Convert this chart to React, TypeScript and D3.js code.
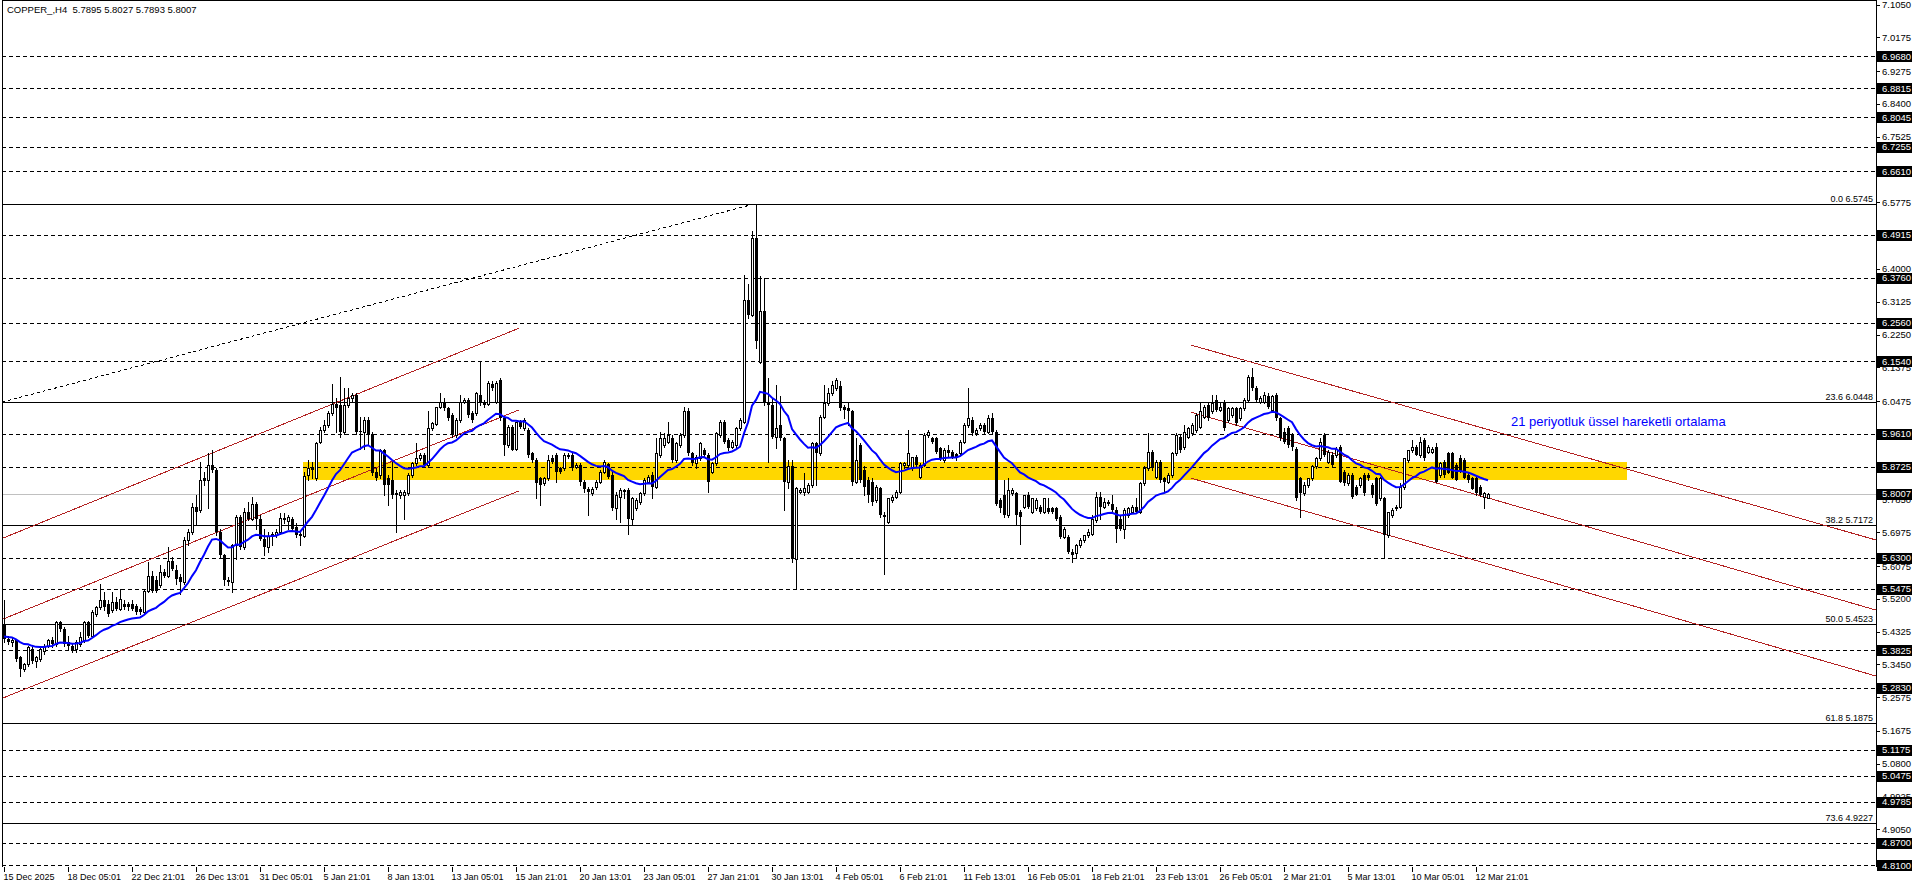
import React from 'react';
import * as d3 from 'd3';

// OHLC per H4 bar: [open, high, low, close]
const candles: [number, number, number, number][] = [
[5.453,5.516,5.404,5.413],[5.413,5.422,5.400,5.404],[5.404,5.418,5.395,5.409],[5.409,5.411,5.355,5.359],[5.364,5.368,5.315,5.333],
[5.333,5.350,5.328,5.346],[5.346,5.395,5.342,5.391],[5.386,5.391,5.350,5.355],[5.355,5.368,5.337,5.364],[5.359,5.391,5.355,5.386],
[5.382,5.400,5.373,5.395],[5.395,5.413,5.391,5.409],[5.409,5.418,5.391,5.400],[5.400,5.462,5.395,5.458],[5.458,5.462,5.435,5.440],
[5.440,5.444,5.395,5.400],[5.404,5.422,5.386,5.395],[5.395,5.400,5.377,5.382],[5.386,5.409,5.377,5.404],[5.400,5.431,5.395,5.418],
[5.409,5.462,5.404,5.458],[5.458,5.462,5.418,5.422],[5.422,5.489,5.418,5.484],[5.480,5.502,5.475,5.498],[5.498,5.560,5.493,5.516],
[5.516,5.538,5.489,5.498],[5.507,5.516,5.475,5.480],[5.489,5.538,5.484,5.511],[5.511,5.525,5.489,5.493],[5.493,5.547,5.489,5.520],
[5.507,5.516,5.493,5.498],[5.507,5.511,5.489,5.498],[5.507,5.516,5.489,5.493],[5.502,5.507,5.480,5.484],[5.493,5.498,5.480,5.484],
[5.484,5.547,5.480,5.542],[5.542,5.618,5.538,5.582],[5.582,5.595,5.538,5.542],[5.569,5.582,5.538,5.542],[5.556,5.609,5.551,5.591],
[5.591,5.600,5.578,5.582],[5.582,5.658,5.578,5.622],[5.622,5.631,5.596,5.600],[5.598,5.609,5.560,5.573],[5.578,5.587,5.533,5.565],
[5.565,5.685,5.560,5.676],[5.676,5.707,5.663,5.698],[5.698,5.775,5.694,5.765],[5.765,5.797,5.716,5.752],[5.757,5.886,5.752,5.837],
[5.841,5.859,5.823,5.834],[5.837,5.910,5.761,5.877],[5.877,5.917,5.859,5.863],[5.863,5.868,5.689,5.698],[5.698,5.707,5.632,5.636],
[5.636,5.640,5.556,5.569],[5.571,5.578,5.556,5.565],[5.565,5.667,5.538,5.663],[5.663,5.743,5.627,5.739],[5.739,5.743,5.654,5.658],
[5.658,5.761,5.654,5.752],[5.752,5.779,5.730,5.734],[5.734,5.792,5.730,5.774],[5.774,5.779,5.707,5.734],[5.734,5.743,5.676,5.680],
[5.680,5.707,5.636,5.658],[5.658,5.698,5.645,5.688],[5.688,5.698,5.663,5.692],[5.689,5.707,5.685,5.698],[5.698,5.748,5.694,5.736],
[5.736,5.748,5.721,5.730],[5.727,5.743,5.707,5.738],[5.734,5.739,5.703,5.707],[5.711,5.721,5.685,5.689],[5.694,5.703,5.663,5.688],
[5.688,5.859,5.685,5.848],[5.850,5.890,5.837,5.868],[5.868,5.886,5.841,5.863],[5.841,5.939,5.837,5.937],[5.939,5.979,5.935,5.970],
[5.970,5.997,5.966,5.984],[5.984,6.020,5.979,6.015],[6.015,6.093,6.011,6.039],[6.039,6.055,5.966,6.028],[6.037,6.111,5.953,5.966],
[5.966,6.082,5.961,6.037],[6.037,6.082,6.033,6.055],[6.057,6.069,6.046,6.064],[6.064,6.069,5.961,5.966],[5.968,6.006,5.921,5.966],
[5.966,6.006,5.921,5.997],[5.997,6.006,5.930,5.957],[5.961,5.966,5.850,5.855],[5.857,5.868,5.837,5.843],[5.850,5.921,5.841,5.917],
[5.917,5.921,5.797,5.823],[5.841,5.850,5.770,5.823],[5.837,5.886,5.788,5.797],[5.801,5.810,5.698,5.797],[5.797,5.810,5.788,5.805],
[5.797,5.810,5.734,5.805],[5.801,5.855,5.797,5.850],[5.850,5.886,5.846,5.881],[5.881,5.935,5.877,5.895],[5.895,5.908,5.890,5.904],
[5.904,5.908,5.872,5.877],[5.877,6.020,5.872,5.977],[5.975,5.993,5.970,5.988],[5.986,6.033,5.984,6.033],[6.033,6.069,6.028,6.046],
[6.046,6.055,6.024,6.028],[6.028,6.033,5.997,6.002],[6.011,6.015,5.953,5.957],[5.957,6.002,5.953,5.997],[5.997,6.064,5.993,6.046],
[6.046,6.055,6.042,6.051],[6.051,6.055,6.006,6.011],[6.015,6.020,5.993,5.997],[6.015,6.073,6.011,6.069],[6.064,6.153,6.037,6.042],
[6.042,6.051,6.033,6.037],[6.039,6.100,6.037,6.095],[6.093,6.100,6.077,6.082],[6.046,6.100,6.042,6.095],[6.104,6.109,5.997,6.002],
[6.002,6.006,5.904,5.930],[5.930,5.984,5.926,5.979],[5.979,5.984,5.917,5.917],[5.921,5.993,5.917,5.993],[5.993,5.997,5.975,5.979],
[5.975,6.002,5.970,5.997],[5.970,5.975,5.899,5.904],[5.908,5.913,5.886,5.890],[5.890,5.895,5.788,5.828],[5.841,5.846,5.770,5.823],
[5.828,5.846,5.823,5.841],[5.841,5.904,5.837,5.890],[5.895,5.904,5.881,5.886],[5.904,5.908,5.832,5.859],[5.868,5.872,5.855,5.859],
[5.868,5.908,5.863,5.904],[5.904,5.908,5.895,5.899],[5.904,5.908,5.863,5.868],[5.872,5.881,5.868,5.877],[5.877,5.881,5.823,5.832],
[5.832,5.837,5.805,5.814],[5.814,5.819,5.743,5.805],[5.801,5.819,5.797,5.814],[5.819,5.837,5.814,5.832],[5.832,5.863,5.828,5.859],
[5.859,5.890,5.855,5.886],[5.880,5.883,5.841,5.846],[5.850,5.859,5.756,5.761],[5.761,5.806,5.734,5.797],[5.792,5.815,5.725,5.810],
[5.810,5.812,5.788,5.806],[5.810,5.815,5.694,5.734],[5.734,5.792,5.716,5.788],[5.761,5.788,5.756,5.783],[5.779,5.806,5.774,5.801],
[5.801,5.841,5.797,5.837],[5.832,5.850,5.828,5.846],[5.850,5.859,5.788,5.819],[5.819,5.948,5.815,5.908],[5.904,5.966,5.899,5.948],
[5.931,5.962,5.926,5.948],[5.939,5.993,5.935,5.957],[5.948,5.957,5.886,5.890],[5.890,5.939,5.886,5.935],[5.931,5.962,5.926,5.957],
[5.957,6.033,5.953,6.020],[6.020,6.029,5.904,5.908],[5.908,5.913,5.877,5.882],[5.882,5.904,5.868,5.899],[5.895,5.939,5.890,5.935],
[5.917,5.922,5.899,5.904],[5.904,5.908,5.806,5.832],[5.859,5.886,5.855,5.882],[5.882,5.966,5.877,5.962],[5.957,5.997,5.953,5.993],
[5.993,5.997,5.935,5.939],[5.944,5.948,5.917,5.922],[5.926,5.944,5.922,5.939],[5.931,5.979,5.926,5.975],[5.975,6.002,5.971,5.997],
[5.993,6.385,5.989,6.318],[6.318,6.359,6.269,6.278],[6.278,6.501,6.274,6.483],[6.483,6.5745,6.189,6.207],[6.153,6.381,6.148,6.287],
[6.287,6.376,6.037,6.046],[6.046,6.109,5.886,6.037],[6.037,6.055,5.948,5.953],[5.953,6.091,5.922,5.975],[5.984,6.060,5.944,5.948],
[5.948,5.953,5.757,5.832],[5.832,5.890,5.815,5.873],[5.873,5.890,5.618,5.627],[5.627,5.819,5.547,5.815],[5.806,5.815,5.801,5.810],
[5.806,5.855,5.797,5.815],[5.806,5.828,5.801,5.823],[5.823,5.939,5.819,5.935],[5.935,5.939,5.823,5.908],[5.908,6.011,5.904,6.006],
[6.006,6.091,6.002,6.042],[6.042,6.082,6.037,6.069],[6.069,6.100,6.064,6.091],[6.082,6.109,6.078,6.105],[6.087,6.100,6.024,6.029],
[6.033,6.037,6.002,6.024],[6.029,6.046,5.984,6.020],[6.020,6.024,5.823,5.832],[5.832,5.948,5.828,5.890],[5.931,5.935,5.832,5.837],
[5.864,5.873,5.797,5.819],[5.837,5.846,5.779,5.797],[5.832,5.841,5.770,5.779],[5.783,5.823,5.779,5.819],[5.815,5.819,5.739,5.743],
[5.743,5.752,5.587,5.739],[5.725,5.788,5.721,5.788],[5.783,5.797,5.779,5.792],[5.792,5.810,5.788,5.806],[5.806,5.886,5.801,5.882],
[5.877,5.886,5.868,5.882],[5.877,5.971,5.873,5.908],[5.868,5.899,5.864,5.899],[5.899,5.904,5.873,5.877],[5.846,5.882,5.841,5.877],
[5.877,5.962,5.873,5.957],[5.957,5.971,5.953,5.966],[5.948,5.953,5.935,5.939],[5.948,5.953,5.908,5.913],[5.922,5.926,5.890,5.895],
[5.890,5.922,5.886,5.917],[5.917,5.931,5.899,5.908],[5.913,5.917,5.895,5.899],[5.906,5.908,5.890,5.899],[5.908,5.944,5.904,5.939],
[5.939,5.989,5.935,5.984],[5.984,6.082,5.979,6.002],[5.997,6.006,5.957,5.962],[5.962,5.975,5.957,5.971],[5.975,5.989,5.971,5.984],
[5.984,5.989,5.962,5.966],[5.966,6.011,5.962,6.002],[6.002,6.015,5.962,5.966],[5.966,5.971,5.770,5.774],[5.783,5.788,5.752,5.761],
[5.797,5.837,5.739,5.743],[5.743,5.841,5.739,5.810],[5.801,5.815,5.797,5.810],[5.801,5.806,5.716,5.743],[5.752,5.757,5.667,5.739],
[5.765,5.797,5.761,5.797],[5.797,5.806,5.761,5.765],[5.752,5.788,5.748,5.788],[5.761,5.788,5.756,5.783],[5.765,5.770,5.748,5.752],
[5.752,5.788,5.748,5.788],[5.761,5.788,5.748,5.752],[5.761,5.765,5.748,5.752],[5.761,5.765,5.730,5.734],[5.739,5.743,5.681,5.685],
[5.685,5.712,5.681,5.707],[5.685,5.690,5.641,5.645],[5.645,5.654,5.618,5.636],[5.641,5.667,5.632,5.663],[5.663,5.681,5.659,5.676],
[5.676,5.690,5.672,5.690],[5.690,5.707,5.685,5.699],[5.694,5.743,5.690,5.734],[5.730,5.806,5.725,5.792],[5.792,5.806,5.734,5.765],
[5.765,5.788,5.761,5.779],[5.779,5.783,5.770,5.774],[5.774,5.797,5.752,5.757],[5.757,5.765,5.672,5.707],[5.734,5.743,5.703,5.707],
[5.707,5.761,5.681,5.757],[5.743,5.765,5.739,5.761],[5.752,5.770,5.748,5.765],[5.765,5.788,5.748,5.752],[5.752,5.832,5.748,5.828],
[5.828,5.873,5.823,5.868],[5.868,5.962,5.864,5.913],[5.913,5.917,5.864,5.868],[5.846,5.890,5.841,5.886],[5.886,5.890,5.832,5.837],
[5.841,5.846,5.805,5.832],[5.832,5.855,5.828,5.850],[5.850,5.913,5.846,5.908],[5.908,5.962,5.904,5.957],[5.953,5.957,5.913,5.917],
[5.926,5.984,5.921,5.966],[5.953,5.979,5.948,5.975],[5.962,5.989,5.957,5.984],[5.971,6.015,5.966,6.011],[5.979,6.046,5.975,6.020],
[6.006,6.037,6.002,6.033],[6.037,6.042,5.997,6.002],[6.020,6.064,6.015,6.042],[6.051,6.064,6.020,6.024],[6.024,6.042,6.020,6.033],
[6.046,6.051,5.971,5.975],[5.997,6.033,5.993,6.028],[6.011,6.033,6.006,6.028],[6.028,6.033,5.984,5.988],[6.002,6.033,5.997,6.028],
[6.028,6.055,6.024,6.051],[6.051,6.118,6.046,6.113],[6.113,6.135,6.078,6.082],[6.082,6.087,6.046,6.051],[6.046,6.060,6.042,6.055],
[6.046,6.073,6.042,6.064],[6.060,6.069,6.028,6.033],[6.024,6.064,6.020,6.060],[6.064,6.069,5.997,6.002],[6.002,6.006,5.944,5.948],
[5.966,5.975,5.935,5.939],[5.975,5.980,5.926,5.930],[5.957,5.962,5.917,5.926],[5.921,5.926,5.784,5.788],[5.841,5.846,5.739,5.801],
[5.801,5.832,5.797,5.823],[5.823,5.841,5.819,5.841],[5.841,5.877,5.837,5.873],[5.873,5.899,5.868,5.895],[5.895,5.948,5.890,5.939],
[5.957,5.962,5.900,5.904],[5.886,5.917,5.881,5.913],[5.904,5.913,5.873,5.877],[5.904,5.926,5.899,5.921],[5.926,5.930,5.832,5.832],
[5.859,5.864,5.823,5.828],[5.828,5.855,5.823,5.850],[5.850,5.855,5.790,5.792],[5.819,5.823,5.797,5.797],[5.823,5.846,5.819,5.841],
[5.850,5.855,5.797,5.801],[5.850,5.855,5.837,5.841],[5.823,5.828,5.792,5.797],[5.841,5.846,5.770,5.774],[5.788,5.846,5.783,5.841],
[5.788,5.792,5.632,5.690],[5.690,5.752,5.686,5.752],[5.743,5.761,5.739,5.757],[5.761,5.770,5.757,5.765],[5.765,5.828,5.761,5.819],
[5.819,5.895,5.814,5.895],[5.890,5.917,5.886,5.917],[5.917,5.944,5.913,5.926],[5.926,5.930,5.904,5.904],[5.904,5.953,5.899,5.939],
[5.944,5.948,5.890,5.895],[5.913,5.930,5.908,5.926],[5.913,5.926,5.908,5.921],[5.926,5.935,5.832,5.832],[5.850,5.886,5.846,5.881],
[5.886,5.890,5.846,5.850],[5.908,5.913,5.855,5.855],[5.908,5.913,5.841,5.841],[5.877,5.881,5.837,5.837],[5.895,5.904,5.859,5.859],
[5.890,5.895,5.841,5.841],[5.850,5.855,5.832,5.837],[5.841,5.846,5.814,5.814],[5.841,5.846,5.797,5.801],[5.819,5.823,5.795,5.797],
[5.792,5.806,5.761,5.801],[5.7895,5.8027,5.7893,5.8007],
];

const emaPeriod = 21;
const emaSeed = 5.42;

const timeLabels = [
  '15 Dec 2025', '18 Dec 05:01', '22 Dec 21:01', '26 Dec 13:01', '31 Dec 05:01', '5 Jan 21:01',
  '8 Jan 13:01', '13 Jan 05:01', '15 Jan 21:01', '20 Jan 13:01', '23 Jan 05:01', '27 Jan 21:01',
  '30 Jan 13:01', '4 Feb 05:01', '6 Feb 21:01', '11 Feb 13:01', '16 Feb 05:01', '18 Feb 21:01',
  '23 Feb 13:01', '26 Feb 05:01', '2 Mar 21:01', '5 Mar 13:01', '10 Mar 05:01', '12 Mar 21:01',
];
const barsPerLabel = 16;

const axisTicks = [7.1050, 7.0175, 6.9275, 6.8400, 6.7525, 6.6650, 6.5775, 6.4900, 6.4000, 6.3125, 6.2250,
  6.1375, 6.0475, 5.9600, 5.8725, 5.7850, 5.6975, 5.6075, 5.5200, 5.4325, 5.3450, 5.2575, 5.1675, 5.0800,
  4.9925, 4.9050, 4.8175];

const markedLevels = [6.9680, 6.8815, 6.8045, 6.7255, 6.6610, 6.4915, 6.3760, 6.2560, 6.1540, 5.9610, 5.8725,
  5.6300, 5.5475, 5.3825, 5.2830, 5.1175, 5.0475, 4.9785, 4.8700, 4.8100];
const bidPrice = 5.8007;

const fibRatios = ['0.0', '23.6', '38.2', '50.0', '61.8', '73.6'];
const fibPrices = [6.5745, 6.0448, 5.7172, 5.4523, 5.1875, 4.9227];
const fibTrend: [number, number][] = [[-0.5, 6.0448], [188, 6.5745]];

const ascChannel: [number, number][][] = [
  [[-0.25, 5.682], [128.75, 6.242]],
  [[-0.25, 5.466], [128.75, 6.024]],
  [[-0.25, 5.2555], [128.75, 5.808]],
];
const descChannel: [number, number][][] = [
  [[296.75, 6.197], [468, 5.677]],
  [[296.75, 6.018], [468, 5.490]],
  [[296.75, 5.842], [468, 5.314]],
];
const zoneBars = [74.75, 405.75];
const zonePrices = [5.885, 5.837];

const title = 'COPPER_,H4  5.7895 5.8027 5.7893 5.8007';
const note = '21 periyotluk üssel hareketli ortalama';
const notePos: [number, number] = [376.75, 5.981];

const W = 1916;
const H = 888;
const PL = 2;
const PR = 1876;
const PB = 867;
const FONT = "'Liberation Sans', Arial, sans-serif";

export default function App() {
  const x = d3.scaleLinear().domain([0, 468]).range([4, 1876]);
  const y = d3.scaleLinear().domain([4.81, 6.968]).range([865, 56]);
  const ry = (p: number) => Math.round(y(p)) + 0.5;

  const alpha = 2 / (emaPeriod + 1);
  const ema: number[] = [];
  candles.forEach((c, i) => {
    const prev = i === 0 ? emaSeed : ema[i - 1];
    ema.push(prev + alpha * (c[3] - prev));
  });
  const emaPath = d3.line<number>().x((_, i) => x(i)).y((v) => y(v)).curve(d3.curveLinear)(ema) || '';
  const seg = d3.line<[number, number]>().x((d) => x(d[0])).y((d) => y(d[1]));

  return (
    <div style={{ position: 'fixed', left: 0, top: 0 }}>
      <svg width={W} height={H} style={{ display: 'block', background: '#fff' }} fontFamily={FONT}>
        <defs>
          <clipPath id="plot">
            <rect x={PL} y={0} width={PR - PL} height={PB} />
          </clipPath>
        </defs>
        <rect x={0} y={0} width={W} height={H} fill="#fff" />
        <g clipPath="url(#plot)">
          <rect x={x(zoneBars[0])} y={y(zonePrices[0])} width={x(zoneBars[1]) - x(zoneBars[0])}
            height={y(zonePrices[1]) - y(zonePrices[0])} fill="#FFD700" />
          {markedLevels.map((p) => (
            <line key={'m' + p} x1={PL} x2={PR} y1={ry(p)} y2={ry(p)} stroke="#000" strokeDasharray="4,3" shapeRendering="crispEdges" />
          ))}
          <line x1={PL} x2={PR} y1={ry(bidPrice)} y2={ry(bidPrice)} stroke="#C0C0C0" shapeRendering="crispEdges" />
          {fibPrices.map((p, k) => (
            <g key={'f' + k}>
              <line x1={PL} x2={PR} y1={ry(p)} y2={ry(p)} stroke="#000" shapeRendering="crispEdges" />
              <text x={PR - 3} y={ry(p) - 3} textAnchor="end" fontSize={9} fill="#000">{fibRatios[k] + ' ' + p.toFixed(4)}</text>
            </g>
          ))}
          <path d={seg(fibTrend) || ''} stroke="#000" fill="none" strokeDasharray="3,3" shapeRendering="crispEdges" />
          {[...ascChannel, ...descChannel].map((ln, k) => (
            <path key={'c' + k} d={seg(ln) || ''} stroke="#B22222" fill="none" strokeWidth={1} shapeRendering="crispEdges" />
          ))}
          <g shapeRendering="crispEdges">
            {candles.map(([o, h, l, c], i) => {
              const cx = Math.round(x(i));
              const yh = Math.round(y(h));
              const yl = Math.round(y(l));
              const yo = Math.round(y(o));
              const yc = Math.round(y(c));
              const top = Math.min(yo, yc);
              const bot = Math.max(yo, yc);
              const up = c >= o;
              return (
                <g key={i}>
                  <line x1={cx + 0.5} x2={cx + 0.5} y1={yh} y2={yl + 1} stroke="#000" />
                  {up ? (
                    <rect x={cx - 0.5} y={top + 0.5} width={2} height={Math.max(bot - top, 0)} fill="#fff" stroke="#000" />
                  ) : (
                    <rect x={cx - 1} y={top} width={3} height={Math.max(bot - top, 1)} fill="#000" />
                  )}
                </g>
              );
            })}
          </g>
          <path d={emaPath} stroke="#0000FF" strokeWidth={2} fill="none" />
          <text x={x(notePos[0])} y={y(notePos[1])} fontSize={13} fill="#0000FF">{note}</text>
        </g>
        {/* frame */}
        <line x1={PL + 0.5} x2={PL + 0.5} y1={0} y2={PB} stroke="#000" shapeRendering="crispEdges" />
        <line x1={PL} x2={PR} y1={0.5} y2={0.5} stroke="#000" shapeRendering="crispEdges" />
        <line x1={PR + 0.5} x2={PR + 0.5} y1={0} y2={PB} stroke="#000" shapeRendering="crispEdges" />
        {/* right axis */}
        {axisTicks.map((p) => (
          <g key={'t' + p}>
            <line x1={PR} x2={PR + 4} y1={ry(p)} y2={ry(p)} stroke="#000" shapeRendering="crispEdges" />
            <text x={PR + 6} y={y(p) + 3.5} fontSize={9.5} fill="#000">{p.toFixed(4)}</text>
          </g>
        ))}
        {[...markedLevels, bidPrice].map((p) => (
          <g key={'b' + p}>
            <rect x={PR + 1} y={Math.round(y(p)) - 5} width={35} height={11} fill="#000" />
            <text x={PR + 6} y={y(p) + 3.5} fontSize={9.5} fill="#fff">{p.toFixed(4)}</text>
          </g>
        ))}
        {/* time axis */}
        {timeLabels.map((t, k) => {
          const tx = Math.round(x(k * barsPerLabel)) + 0.5;
          return (
            <g key={'x' + k}>
              <line x1={tx} x2={tx} y1={PB} y2={PB + 5} stroke="#000" shapeRendering="crispEdges" />
              <text x={tx - 1} y={880} fontSize={9} fill="#000">{t}</text>
            </g>
          );
        })}
        <text x={7} y={13} fontSize={9.5} fill="#000" style={{ whiteSpace: 'pre' }}>{title}</text>
      </svg>
    </div>
  );
}
